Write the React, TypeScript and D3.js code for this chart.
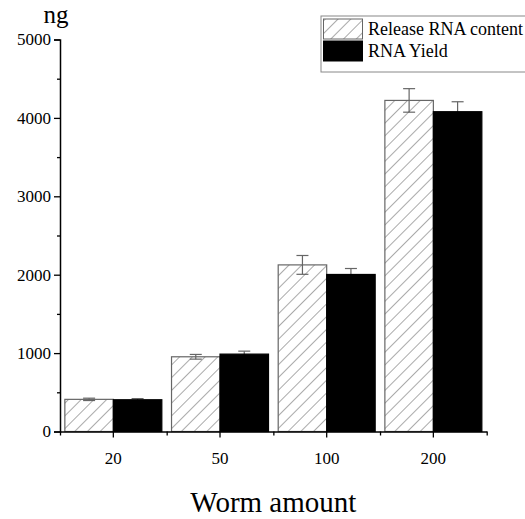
import React, { useEffect, useRef } from "react";
import * as d3 from "d3";

const categories = ["20", "50", "100", "200"];
const seriesNames = ["Release RNA content", "RNA Yield"];
const releaseValues = [410, 953, 2125, 4223];
const releaseErrors = [15, 30, 120, 150];
const yieldValues = [405, 987, 2003, 4079];
const yieldErrors = [15, 38, 76, 127];
const yTicks = [0, 1000, 2000, 3000, 4000, 5000];

export default function App() {
  const chartRef = useRef(null);

  useEffect(() => {
    if (!chartRef.current) return;
    d3.select(chartRef.current).selectAll("*").remove();

    const width = 525;
    const height = 519;
    const font = "'Liberation Serif', 'Times New Roman', serif";
    const left = 60, right = 486.7, top = 39.5, bottom = 431.5;

    const svg = d3
      .select(chartRef.current)
      .append("svg")
      .attr("width", width)
      .attr("height", height)
      .style("display", "block")
      .style("background", "#fff");

    const defs = svg.append("defs");
    const pat = defs
      .append("pattern")
      .attr("id", "hatch")
      .attr("patternUnits", "userSpaceOnUse")
      .attr("width", 9)
      .attr("height", 9)
      .attr("patternTransform", "rotate(45)");
    pat
      .append("line")
      .attr("x1", 0)
      .attr("y1", 0)
      .attr("x2", 0)
      .attr("y2", 9)
      .attr("stroke", "#555")
      .attr("stroke-width", 1);

    const x = d3.scaleBand().domain(categories).range([left, right]).paddingInner(0).paddingOuter(0);
    const inner = d3.scaleBand().domain(seriesNames).range([0, x.bandwidth()]).paddingOuter(0.1).paddingInner(0);
    const y = d3.scaleLinear().domain([0, 5000]).range([bottom, top]);

    const data = categories.map((c, i) => ({
      cat: c,
      bars: [
        { key: seriesNames[0], v: releaseValues[i], e: releaseErrors[i] },
        { key: seriesNames[1], v: yieldValues[i], e: yieldErrors[i] },
      ],
    }));

    const groups = svg
      .append("g")
      .selectAll("g")
      .data(data)
      .enter()
      .append("g")
      .attr("transform", (d) => `translate(${x(d.cat)},0)`);

    // error bars drawn first so the black bars hide their lower half
    groups.each(function (d) {
      const g = d3.select(this);
      d.bars.forEach((b) => {
        const cx = inner(b.key) + inner.bandwidth() / 2;
        const eb = g.append("g").attr("stroke", "#666").attr("stroke-width", 1.2);
        eb.append("line").attr("x1", cx).attr("x2", cx).attr("y1", y(b.v - b.e)).attr("y2", y(b.v + b.e));
        eb.append("line").attr("x1", cx - 6).attr("x2", cx + 6).attr("y1", y(b.v + b.e)).attr("y2", y(b.v + b.e));
        eb.append("line").attr("x1", cx - 6).attr("x2", cx + 6).attr("y1", y(b.v - b.e)).attr("y2", y(b.v - b.e));
      });
    });

    groups
      .selectAll("rect")
      .data((d) => d.bars)
      .enter()
      .append("rect")
      .attr("x", (d) => inner(d.key))
      .attr("y", (d) => y(d.v))
      .attr("width", inner.bandwidth())
      .attr("height", (d) => y(0) - y(d.v))
      .attr("fill", (d, i) => (i === 0 ? "url(#hatch)" : "#000"))
      .attr("stroke", (d, i) => (i === 0 ? "#666" : "#000"))
      .attr("stroke-width", 1.2);

    // y axis
    const yAxis = svg
      .append("g")
      .attr("transform", `translate(${left},0)`)
      .call(d3.axisLeft(y).tickValues(yTicks).tickSize(6).tickPadding(3).tickFormat(d3.format("d")));
    yAxis.selectAll(".tick text").attr("font-family", font).attr("font-size", 17).attr("fill", "#000");
    yAxis.select(".domain").attr("stroke-width", 1.5);
    yAxis.selectAll(".tick line").attr("stroke-width", 1.3);
    svg
      .append("g")
      .attr("transform", `translate(${left},0)`)
      .call(d3.axisLeft(y).tickValues(d3.range(500, 5000, 1000)).tickSize(3).tickFormat(() => ""))
      .call((g) => g.select(".domain").remove())
      .selectAll(".tick line")
      .attr("stroke-width", 1.3);

    // x axis
    const xAxis = svg
      .append("g")
      .attr("transform", `translate(0,${bottom})`)
      .call(d3.axisBottom(x).tickSize(6).tickPadding(14).tickSizeOuter(0));
    xAxis.selectAll(".tick text").attr("font-family", font).attr("font-size", 17).attr("fill", "#000");
    xAxis.select(".domain").attr("stroke-width", 1.5);
    xAxis.selectAll(".tick line").attr("stroke-width", 1.3);
    svg
      .append("g")
      .attr("transform", `translate(0,${bottom})`)
      .call(d3.axisBottom(d3.scaleLinear().domain([0, 4]).range([left, right])).ticks(4).tickSize(4).tickFormat(() => ""))
      .call((g) => g.select(".domain").remove())
      .selectAll(".tick line")
      .attr("stroke-width", 1.3);

    // titles
    svg
      .append("text")
      .attr("x", 56)
      .attr("y", 23)
      .attr("text-anchor", "middle")
      .attr("font-family", font)
      .attr("font-size", 25)
      .text("ng");

    svg
      .append("text")
      .attr("x", (left + right) / 2)
      .attr("y", 512)
      .attr("text-anchor", "middle")
      .attr("font-family", font)
      .attr("font-size", 29)
      .text("Worm amount");

    // legend
    const legend = svg.append("g").attr("font-family", font).attr("font-size", 18);
    legend
      .append("rect")
      .attr("x", 321)
      .attr("y", 16)
      .attr("width", 210)
      .attr("height", 56)
      .attr("fill", "#fff")
      .attr("stroke", "#888")
      .attr("stroke-width", 1);
    const items = legend
      .selectAll("g")
      .data(seriesNames)
      .enter()
      .append("g")
      .attr("transform", (d, i) => `translate(0,${i * 22})`);
    items
      .append("rect")
      .attr("x", 323.5)
      .attr("y", 19)
      .attr("width", 39)
      .attr("height", 20)
      .attr("fill", (d, i) => (i === 0 ? "url(#hatch)" : "#000"))
      .attr("stroke", (d, i) => (i === 0 ? "#666" : "#000"));
    items
      .append("text")
      .attr("x", 368)
      .attr("y", 35)
      .text((d) => d);
  }, []);

  return <div ref={chartRef} style={{ position: "absolute", left: 0, top: 0, width: 525, height: 519 }}></div>;
}
